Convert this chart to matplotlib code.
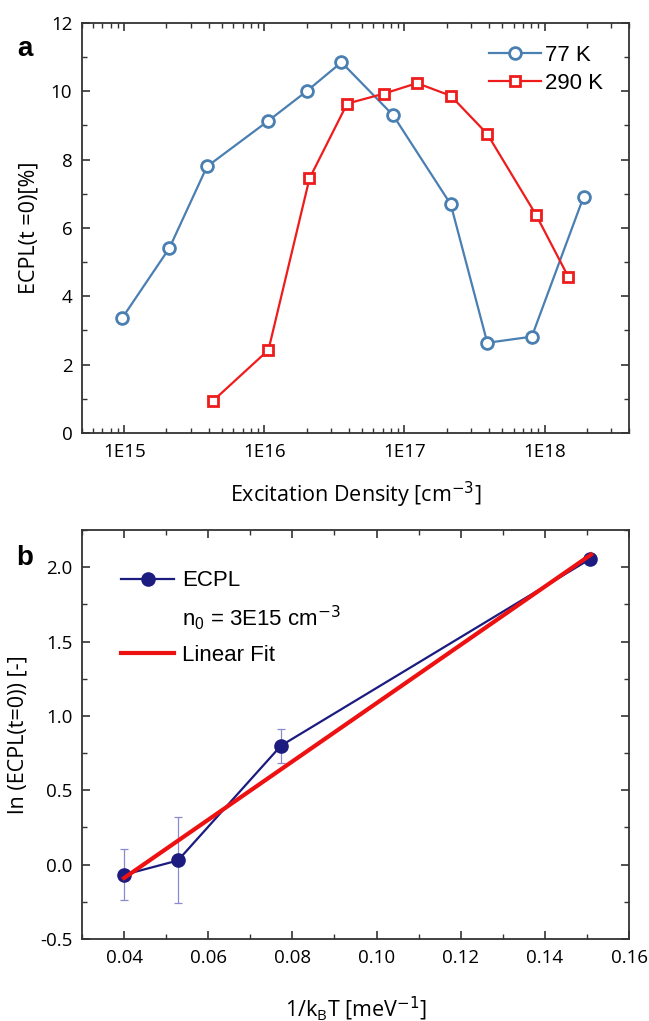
import matplotlib
matplotlib.use("Agg")
import matplotlib.pyplot as plt
from matplotlib.ticker import LogLocator, MultipleLocator, NullFormatter, FixedLocator, FixedFormatter
from matplotlib.lines import Line2D

# ---- data panel a ----
x_77K = [9.7e14, 2.1e15, 3.9e15, 1.07e16, 2.0e16, 3.55e16, 8.3e16, 2.14e17, 3.9e17, 8.1e17, 1.9e18]
y_77K = [3.37, 5.41, 7.80, 9.14, 10.0, 10.85, 9.30, 6.69, 2.64, 2.82, 6.92]
x_290K = [4.3e15, 1.07e16, 2.1e16, 3.9e16, 7.1e16, 1.23e17, 2.14e17, 3.9e17, 8.7e17, 1.48e18]
y_290K = [0.94, 2.43, 7.45, 9.64, 9.93, 10.24, 9.87, 8.75, 6.38, 4.56]
xticks_a = [1e15, 1e16, 1e17, 1e18]
xticklabels_a = ["1E15", "1E16", "1E17", "1E18"]

# ---- data panel b ----
x_ecpl = [0.040, 0.0528, 0.0773, 0.1507]
y_ecpl = [-0.068, 0.028, 0.80, 2.054]
err_low = [0.168, 0.286, 0.115, 0.0]
err_high = [0.172, 0.290, 0.115, 0.0]
x_fit = [0.040, 0.151]
y_fit = [-0.09, 2.085]

W, H = 649, 1021
fig = plt.figure(figsize=(W / 100, H / 100), dpi=100)

spine_col = "#333333"
TICK = 13.5
LAB = 15.5

def style(ax):
    for s in ax.spines.values():
        s.set_linewidth(1.3)
        s.set_color(spine_col)
    ax.tick_params(which="both", direction="in", top=True, right=True, color=spine_col)
    ax.tick_params(which="major", length=6, width=1.2, labelsize=TICK, pad=7)
    ax.tick_params(which="minor", length=3.5, width=1.0)
    for lab in ax.get_xticklabels() + ax.get_yticklabels():
        lab.set_fontfamily("Open Sans")

# ---- panel a ----
ax1 = fig.add_axes([82 / W, 1 - 433 / H, 547 / W, 410 / H])
ax1.plot(x_77K, y_77K, color="#4a7fb2", lw=1.6, marker="o", ms=8.5, mfc="white",
         mec="#4a7fb2", mew=2.0, label="77 K")
ax1.plot(x_290K, y_290K, color="#ee1c1c", lw=1.6, marker="s", ms=7.5, mfc="white",
         mec="#ee1c1c", mew=2.0, label="290 K")
ax1.set_xscale("log")
ax1.set_xlim(5e14, 4e18)
ax1.set_ylim(0, 12)
ax1.xaxis.set_major_locator(FixedLocator(xticks_a))
ax1.xaxis.set_major_formatter(FixedFormatter(xticklabels_a))
ax1.xaxis.set_minor_locator(LogLocator(base=10, subs=range(2, 10), numticks=20))
ax1.xaxis.set_minor_formatter(NullFormatter())
ax1.yaxis.set_major_locator(MultipleLocator(2))
ax1.yaxis.set_minor_locator(MultipleLocator(1))
style(ax1)
ax1.set_ylabel("ECPL(t =0)[%]", fontsize=LAB, fontfamily="Open Sans", labelpad=8)
ax1.set_xlabel("Excitation Density [cm$^{-3}$]", fontsize=LAB, fontfamily="Open Sans", labelpad=14)
ax1.legend(loc="upper right", frameon=False, prop={"family": "Liberation Sans", "size": 16},
           handlelength=2.3, handletextpad=0.2, borderaxespad=0.4, labelspacing=0.3,
           bbox_to_anchor=(0.985, 0.99))
fig.text(25 / W, 1 - 49 / H, "a", fontsize=20, fontweight="bold", fontfamily="Liberation Sans",
         ha="center", va="center")

# ---- panel b ----
ax2 = fig.add_axes([82 / W, 1 - 939 / H, 547 / W, 409 / H])
ax2.errorbar(x_ecpl, y_ecpl, yerr=[err_low, err_high], fmt="none", ecolor="#8a8ad0",
             elinewidth=0.9, capsize=3, capthick=0.9, zorder=2)
ax2.plot(x_ecpl, y_ecpl, color="#1b1b80", lw=1.6, marker="o", ms=9.5, mfc="#1b1b80",
         mec="#1b1b80", zorder=3)
ax2.plot(x_fit, y_fit, color="#ee1111", lw=3.0, zorder=4)
ax2.set_xlim(0.03, 0.16)
ax2.set_ylim(-0.5, 2.25)
ax2.xaxis.set_major_locator(MultipleLocator(0.02))
ax2.xaxis.set_minor_locator(MultipleLocator(0.01))
ax2.yaxis.set_major_locator(MultipleLocator(0.5))
ax2.yaxis.set_minor_locator(MultipleLocator(0.25))
ax2.xaxis.set_major_formatter(matplotlib.ticker.FormatStrFormatter("%.2f"))
ax2.yaxis.set_major_formatter(matplotlib.ticker.FormatStrFormatter("%.1f"))
style(ax2)
ax2.set_ylabel("ln (ECPL(t=0)) [-]", fontsize=LAB, fontfamily="Open Sans", labelpad=8)
ax2.set_xlabel("1/k$_\\mathregular{B}$T [meV$^{-1}$]", fontsize=LAB, fontfamily="Open Sans", labelpad=20)
handles = [
    Line2D([], [], color="#1b1b80", lw=1.6, marker="o", ms=9.5),
    Line2D([], [], color="none"),
    Line2D([], [], color="#ee1111", lw=3.0),
]
labels = ["ECPL", "n$_\\mathregular{0}$ = 3E15 cm$^{-3}$", "Linear Fit"]
ax2.legend(handles, labels, loc="upper left", frameon=False,
           prop={"family": "Liberation Sans", "size": 16},
           handlelength=2.4, handletextpad=0.35, labelspacing=0.55,
           bbox_to_anchor=(0.035, 0.95))
fig.text(25 / W, 1 - 558 / H, "b", fontsize=20, fontweight="bold", fontfamily="Liberation Sans",
         ha="center", va="center")

fig.savefig("out.png", dpi=100)
